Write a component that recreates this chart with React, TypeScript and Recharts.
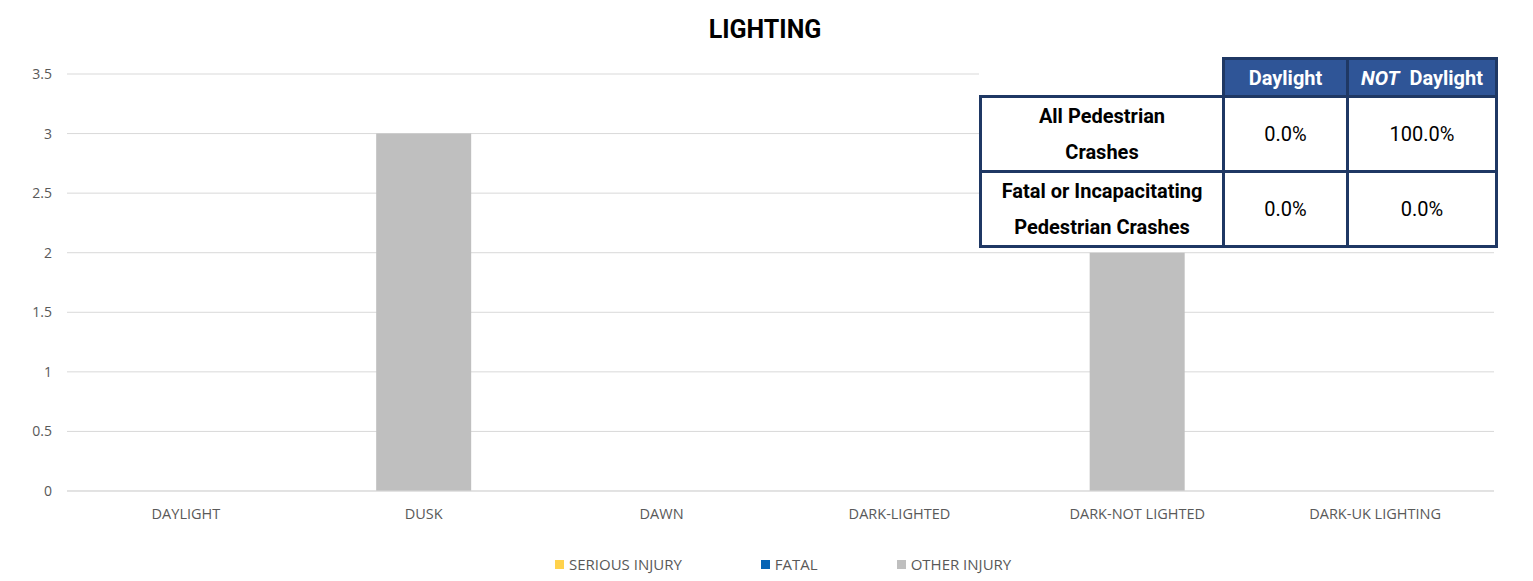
import React from 'react';
import { BarChart, Bar, XAxis, YAxis, CartesianGrid } from 'recharts';

const categories = ['DAYLIGHT', 'DUSK', 'DAWN', 'DARK-LIGHTED', 'DARK-NOT LIGHTED', 'DARK-UK LIGHTING'];
const seriousInjury = [0, 0, 0, 0, 0, 0];
const fatal = [0, 0, 0, 0, 0, 0];
const otherInjury = [0, 3, 0, 0, 2, 0];
const yTicks = [0, 0.5, 1, 1.5, 2, 2.5, 3, 3.5];

const series = [
  { key: 'serious', name: 'SERIOUS INJURY', color: '#FFD24C' },
  { key: 'fatal', name: 'FATAL', color: '#0563B4' },
  { key: 'other', name: 'OTHER INJURY', color: '#BFBFBF' },
];

const tableCols = ['Daylight', 'NOT Daylight'];
const tableRows = [
  ['All Pedestrian', 'Crashes'],
  ['Fatal or Incapacitating', 'Pedestrian Crashes'],
];
const tableValues = [
  ['0.0%', '100.0%'],
  ['0.0%', '0.0%'],
];

const chartData = categories.map((name, i) => ({
  name,
  serious: seriousInjury[i],
  fatal: fatal[i],
  other: otherInjury[i],
}));

const narrow = 'Roboto, "Liberation Sans", sans-serif';
const navy = '#1F3864';
const axisFont = '"Open Sans", sans-serif';

const cellBase: React.CSSProperties = {
  border: `3px solid ${navy}`,
  textAlign: 'center',
  verticalAlign: 'middle',
  padding: 0,
};

export default function App() {
  return (
    <div style={{ position: 'absolute', left: 0, top: 0, width: 1533, height: 581, background: '#fff' }}>
      <div
        style={{
          position: 'absolute',
          top: 15,
          left: 565,
          width: 400,
          textAlign: 'center',
          fontFamily: narrow,
          fontWeight: 'bold',
          fontSize: 25,
          color: '#000',
        }}
      >
        LIGHTING
      </div>
      <BarChart
        width={1533}
        height={581}
        data={chartData}
        margin={{ top: 74, right: 39, left: 0, bottom: 60 }}
        barCategoryGap="30%"
      >
        <CartesianGrid vertical={false} stroke="#D9D9D9" />
        <XAxis
          dataKey="name"
          height={30}
          tickLine={false}
          axisLine={{ stroke: '#D9D9D9' }}
          tickMargin={12}
          tick={{ fill: '#595959', fontSize: 14.5, fontFamily: axisFont }}
        />
        <YAxis
          width={67}
          domain={[0, 3.5]}
          ticks={yTicks}
          axisLine={false}
          tickLine={false}
          tickMargin={9}
          tick={{ fill: '#595959', fontSize: 14, fontFamily: axisFont }}
        />
        {series.map(s => (
          <Bar key={s.key} dataKey={s.key} name={s.name} stackId="a" fill={s.color} isAnimationActive={false} />
        ))}
      </BarChart>

      <div style={{ position: 'absolute', left: 979, top: 57, background: '#fff', width: 516, height: 188 }}>
        <table
          style={{
            borderCollapse: 'collapse',
            fontFamily: narrow,
            fontSize: 20,
            tableLayout: 'fixed',
            width: 516,
          }}
        >
          <colgroup>
            <col style={{ width: 243 }} />
            <col style={{ width: 124 }} />
            <col style={{ width: 149 }} />
          </colgroup>
          <tbody>
            <tr style={{ height: 38 }}>
              <td style={{ padding: 0 }} />
              {tableCols.map(c => (
                <td
                  key={c}
                  style={{ ...cellBase, background: '#2F5597', color: '#fff', fontWeight: 'bold' }}
                >
                  {c.startsWith('NOT') ? (
                    <>
                      <i>NOT</i>
                      {'\u00a0' + c.slice(3)}
                    </>
                  ) : (
                    c
                  )}
                </td>
              ))}
            </tr>
            {tableRows.map((r, i) => (
              <tr key={i} style={{ height: 72 }}>
                <td style={{ ...cellBase, fontWeight: 'bold', lineHeight: '36px' }}>
                  {r[0]}
                  <br />
                  {r[1]}
                </td>
                {tableValues[i].map((v, j) => (
                  <td key={j} style={cellBase}>
                    {v}
                  </td>
                ))}
              </tr>
            ))}
          </tbody>
        </table>
      </div>

      <div
        style={{
          position: 'absolute',
          top: 554,
          left: 555,
          display: 'flex',
          fontFamily: axisFont,
          fontSize: 15,
          color: '#595959',
        }}
      >
        {series.map(s => (
          <div key={s.key} style={{ display: 'flex', alignItems: 'center', marginRight: 79 }}>
            <span style={{ display: 'inline-block', width: 9, height: 9, background: s.color, marginRight: 5 }} />
            <span>{s.name}</span>
          </div>
        ))}
      </div>
    </div>
  );
}
